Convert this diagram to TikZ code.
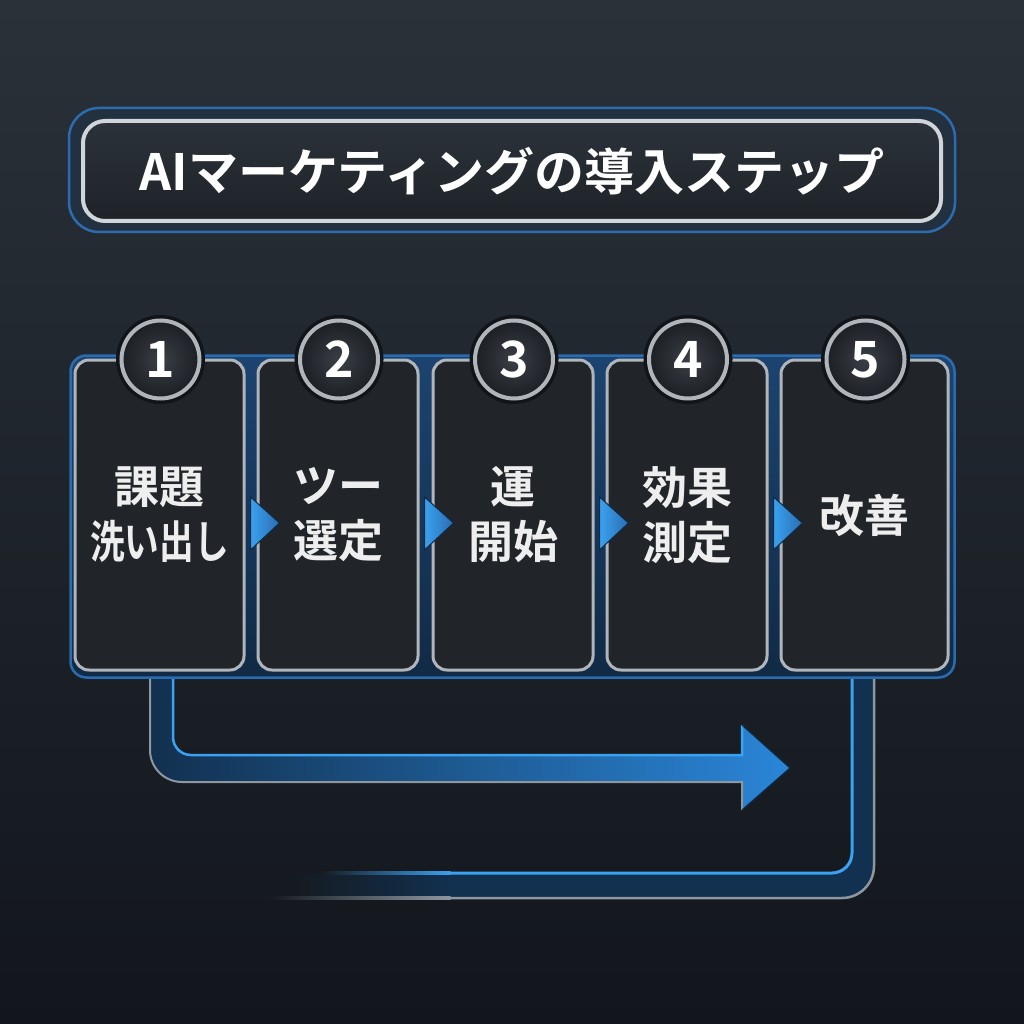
\documentclass[tikz,border=0pt]{standalone}
\usepackage{fontspec}
\usepackage{graphicx}
\setmainfont{Noto Sans CJK JP}[BoldFont={Noto Sans CJK JP Bold}]
\usetikzlibrary{calc}

\definecolor{bgtop}{HTML}{2A3139}
\definecolor{bgbot}{HTML}{12161C}
\definecolor{bgloc}{HTML}{151A20}
\definecolor{cardfill}{HTML}{212529}
\definecolor{cardrim}{HTML}{AFB5BB}
\definecolor{dotin}{HTML}{3A3F46}
\definecolor{dotout}{HTML}{1C1F24}
\definecolor{gapc}{HTML}{111418}
\definecolor{panelA}{HTML}{1C4470}
\definecolor{panelB}{HTML}{112A45}
\definecolor{rimblue}{HTML}{2B6CB0}
\definecolor{glowblue}{HTML}{3AA2F0}
\definecolor{arrowblue}{HTML}{1F6FBF}
\definecolor{arrowbluelt}{HTML}{2A86D8}
\definecolor{bandc}{HTML}{12304F}
\definecolor{silverdk}{HTML}{8E979F}
\definecolor{silverlt}{HTML}{D0D5DA}
\definecolor{framec}{HTML}{22303F}
\definecolor{titletop}{HTML}{2C323A}
\definecolor{titlebot}{HTML}{1E2328}
\definecolor{chevedge}{HTML}{0E2A45}
\definecolor{txt}{HTML}{EEEEEE}

\begin{document}
\begin{tikzpicture}[x=1pt,y=-1pt,
  cardbox/.style={draw=cardrim, line width=3, rounded corners=14, fill=cardfill,
    minimum height=310, inner sep=0, align=center, text=txt,
    font=\bfseries\fontsize{45}{55}\selectfont},
  numdot/.style={circle, draw=cardrim, line width=4, inner color=dotin, outer color=dotout,
    minimum size=78, inner sep=0, text=white, font=\bfseries\fontsize{50}{50}\selectfont,
    preaction={draw=gapc, line width=11}},
  chev/.style={left color=glowblue, right color=rimblue, draw=chevedge, line width=1}]

\useasboundingbox (0,0) rectangle (1024,1024);
\shade[top color=bgtop, bottom color=bgbot] (0,0) rectangle (1024,1024);

\node[draw=rimblue, line width=2.5, rounded corners=30, fill=framec,
  minimum width=886, minimum height=124] (frame) at (512,170) {};
\node[draw=silverlt, line width=4, rounded corners=22, top color=titletop, bottom color=titlebot,
  minimum width=858, minimum height=100, text=white,
  font=\bfseries\fontsize{50}{60}\selectfont] (title) at (512,171) {AIマーケティングの導入ステップ};

\fill[bandc] (852,676) -- (852,853) .. controls (852,864) and (843,873) .. (832,873) -- (450,873)
  -- (450,898) -- (842,898) .. controls (859.7,898) and (874,883.7) .. (874,866) -- (874,676) -- cycle;
\shade[left color=bgloc, right color=bandc] (290,873) rectangle (450.5,898);
\draw[glowblue, line width=3] (852,676) -- (852,853) .. controls (852,864) and (843,873) .. (832,873) -- (450,873);
\shade[left color=bgloc, right color=glowblue] (320,871.5) rectangle (450.5,874.5);
\draw[silverdk, line width=2.5] (874,676) -- (874,866) .. controls (874,883.7) and (859.7,898) .. (842,898) -- (450,898);
\shade[left color=bgloc, right color=silverdk] (270,896.75) rectangle (450.5,899.25);

\shade[left color=bandc, middle color=arrowblue, right color=arrowbluelt] (150,676) -- (150,750)
  .. controls (150,767.7) and (164.3,782) .. (182,782) -- (742,782) -- (742,810) -- (790,768)
  -- (742,725) -- (742,755) -- (191,755) .. controls (181,755) and (173,747) .. (173,737) -- (173,676) -- cycle;
\draw[glowblue, line width=2.5] (173,676) -- (173,737) .. controls (173,747) and (181,755) .. (191,755) -- (742,755) -- (742,725);
\draw[silverdk, line width=2] (150,676) -- (150,750) .. controls (150,767.7) and (164.3,782) .. (182,782) -- (742,782) -- (742,810);
\draw[chevedge, line width=1.2] (742,725) -- (790,768) -- (742,810);

\node[draw=rimblue, line width=2.5, rounded corners=16, top color=panelA, bottom color=panelB,
  minimum width=884, minimum height=322] (panel) at (512.5,516.5) {};

\foreach \i/\x/\w/\txt in {1/159.5/169/{課題\\\scalebox{0.77}[1]{洗い出し}}, 2/338/160/{ツー\\選定},
    3/513/160/{運\\開始}, 4/687/160/{効果\\測定}, 5/864.5/167/{改善}}
  \node[cardbox, minimum width=\w] (c\i) at (\x,515) {\txt};

\foreach \i in {1,...,4}
  \shadedraw[chev] ($(c\i.east)+(5,-18)$) -- ($(c\i.east)+(34,8)$) -- ($(c\i.east)+(5,35)$) -- cycle;

\foreach \i in {1,...,5}
  \node[numdot] (n\i) at ($(c\i.north)+(1,1)$) {\i};
\end{tikzpicture}
\end{document}
